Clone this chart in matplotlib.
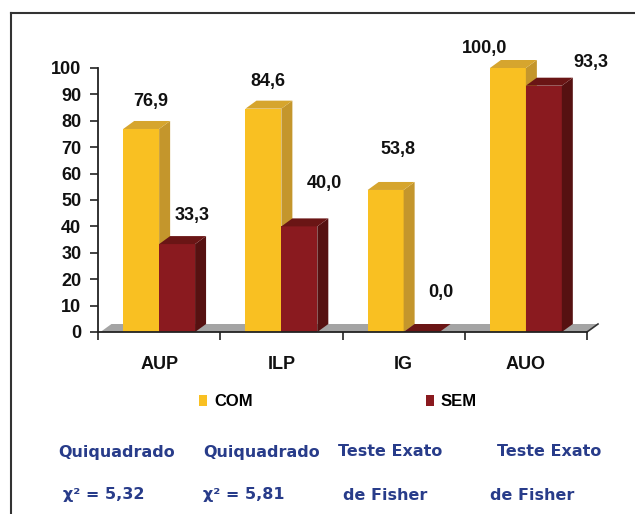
import matplotlib
matplotlib.use("Agg")
import matplotlib.pyplot as plt
from matplotlib.patches import Polygon, Patch
from matplotlib.lines import Line2D

# ── data ─────────────────────────────────────────────────
categories = ["AUP", "ILP", "IG", "AUO"]
com_values = [76.9, 84.6, 53.8, 100.0]
sem_values = [33.3, 40.0, 0.0, 93.3]
series_names = ["COM", "SEM"]
test_names = ["Quiquadrado", "Quiquadrado", "Teste Exato", "Teste Exato"]
test_stats = ["χ² = 5,32", "χ² = 5,81", "de Fisher", "de Fisher"]

# ── style ────────────────────────────────────────────────
W, H = 635, 514
NARROW = ["Liberation Sans Narrow", "Liberation Sans", "DejaVu Sans"]
YEL = ("#F9C022", "#C4962C", "#D6A52E")   # front, side, top
RED = ("#8A1A1F", "#561111", "#6A1515")
FLOOR = "#A4A4A4"
BLUE = "#283C8A"

BAR_W = 0.294       # in category units
DX_PX, DY_PX = 11, 8

# label offsets in pixels (right, up) from the front top centre of each bar
com_off = [(10, 27), (4, 27), (12, 40), (-23, 20)]
sem_off = [(15, 29), (25, 43), (19, 39), (47, 23)]

fig = plt.figure(figsize=(W / 100, H / 100), dpi=100)
ax = fig.add_axes([98 / W, 1 - 332 / H, (587 - 98) / W, (332 - 68) / H])
ax.set_xlim(0, len(categories))
ax.set_ylim(0, 100)

# depth offsets converted to data units
dx = DX_PX / ((587 - 98) / len(categories))
dy = DY_PX / ((332 - 68) / 100)


def box(x0, h, colors):
    front, side, top = colors
    x1 = x0 + BAR_W
    ax.add_patch(Polygon([(x0, 0), (x1, 0), (x1, h), (x0, h)],
                         closed=True, fc=front, ec="none", clip_on=False, zorder=3))
    ax.add_patch(Polygon([(x1, 0), (x1 + dx, dy), (x1 + dx, h + dy), (x1, h)],
                         closed=True, fc=side, ec="none", clip_on=False, zorder=3))
    ax.add_patch(Polygon([(x0, h), (x1, h), (x1 + dx, h + dy), (x0 + dx, h + dy)],
                         closed=True, fc=top, ec="none", clip_on=False, zorder=3))


# floor
n = len(categories)
ax.add_patch(Polygon([(0.02, 0), (n, 0), (n + dx, dy), (0.02 + dx, dy)],
                     closed=True, fc=FLOOR, ec="none", clip_on=False, zorder=2))
ax.plot([n, n + dx], [0, dy], color="#333333", lw=1.2, clip_on=False, zorder=2)

for i, cat in enumerate(categories):
    c = i + 0.5
    box(c - BAR_W, com_values[i], YEL)
    box(c, sem_values[i], RED)
    for val, xc, off in ((com_values[i], c - BAR_W / 2, com_off[i]),
                         (sem_values[i], c + BAR_W / 2, sem_off[i])):
        ax.annotate(f"{val:.1f}".replace(".", ","), xy=(xc, val),
                    xytext=(off[0] * 0.72, off[1] * 0.72), textcoords="offset points",
                    ha="center", va="center", fontsize=13, fontweight="bold",
                    family=NARROW, color="#111111", zorder=5)

# axes styling
for s in ("top", "right"):
    ax.spines[s].set_visible(False)
for s in ("left", "bottom"):
    ax.spines[s].set_color("#222222")
    ax.spines[s].set_linewidth(1.3)
    ax.spines[s].set_zorder(4)

ax.set_yticks(range(0, 101, 10))
ax.tick_params(axis="y", direction="out", length=6, width=1.2, pad=6, color="#222222")
for lab in ax.get_yticklabels():
    lab.set_fontsize(13)
    lab.set_fontweight("bold")
    lab.set_family(NARROW)
    lab.set_color("#111111")

ax.set_xticks(range(n + 1))
ax.set_xticklabels([])
ax.tick_params(axis="x", which="major", direction="out", length=6, width=1.2, color="#222222")
ax.set_xticks([i + 0.5 for i in range(n)], minor=True)
ax.set_xticklabels(categories, minor=True)
ax.tick_params(axis="x", which="minor", length=0, pad=17)
for lab in ax.get_xticklabels(minor=True):
    lab.set_fontsize(13)
    lab.set_fontweight("bold")
    lab.set_family(NARROW)
    lab.set_color("#111111")

# legend
handles = [Patch(fc=YEL[0], ec="none"), Patch(fc=RED[0], ec="none")]
fig.legend(handles, series_names, loc="center", bbox_to_anchor=(338 / W, 1 - 402 / H),
           ncol=2, frameon=False, handlelength=0.5, handleheight=0.6,
           handletextpad=0.4, columnspacing=10.4,
           prop={"family": NARROW, "weight": "bold", "size": 12})

# statistical test notes
row1_x = [58, 203, 338, 497]
row2_x = [63, 203, 343, 490]
for i in range(n):
    fig.text(row1_x[i] / W, 1 - 452 / H, test_names[i], ha="left", va="center",
             fontsize=11.5, fontweight="bold", family="DejaVu Sans", color=BLUE)
    fig.text(row2_x[i] / W, 1 - 495 / H, test_stats[i], ha="left", va="center",
             fontsize=11.5, fontweight="bold", family="DejaVu Sans", color=BLUE)

# frame around the picture
fig.add_artist(Line2D([11 / W, 1], [1 - 13 / H, 1 - 13 / H], color="#333333", lw=1.5))
fig.add_artist(Line2D([11 / W, 11 / W], [0, 1 - 13 / H], color="#333333", lw=1.5))

fig.savefig("out.png", dpi=100)
